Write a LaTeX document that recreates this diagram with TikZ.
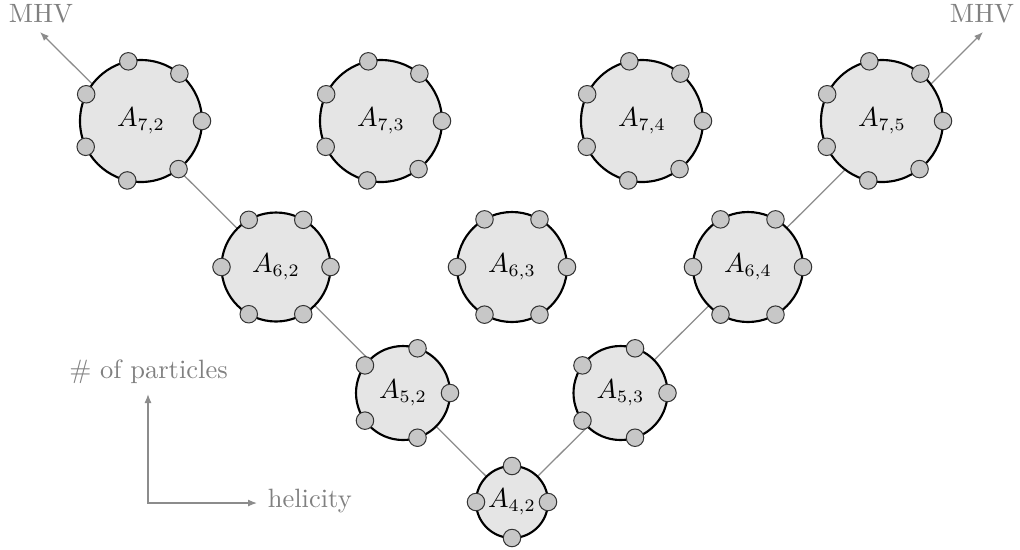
\documentclass[tikz,border=0pt]{standalone}
\usetikzlibrary{backgrounds,arrows.meta,calc}
\begin{document}
\begin{tikzpicture}[x=0.4pt,y=-0.4pt,
  font=\fontsize{10.6}{12.7}\selectfont,
  amp/.style={circle,draw=black,line width=0.85pt,fill=black!10,inner sep=0pt,outer sep=0pt,minimum size=#1*0.8pt},
  leg/.style={circle,draw=black!80,line width=0.4pt,fill=black!22,inner sep=0pt,minimum size=7pt},
  guide/.style={draw=black!45,line width=0.5pt},
  tip/.style={-{Latex[length=3.6pt,width=2.8pt]}},
  lbl/.style={text=black!50}]
\useasboundingbox (0,0) rectangle (1020,549);
% amplitudes
\node[amp=36]   (A42) at (512,502)   {$A_{4,2}$};
\node[amp=47]   (A52) at (403,393)   {$A_{5,2}$};
\node[amp=47]   (A53) at (620.5,393) {$A_{5,3}$};
\node[amp=54.5] (A62) at (276,267)   {$A_{6,2}$};
\node[amp=55]   (A63) at (512,267)   {$A_{6,3}$};
\node[amp=55]   (A64) at (748,267)   {$A_{6,4}$};
\node[amp=61]   (A72) at (141,121)   {$A_{7,2}$};
\node[amp=61]   (A73) at (381,121)   {$A_{7,3}$};
\node[amp=61]   (A74) at (642,121)   {$A_{7,4}$};
\node[amp=61]   (A75) at (882,121)   {$A_{7,5}$};
% external legs
\foreach \n/\nm in {4/A42,5/A52,5/A53,6/A62,6/A63,6/A64,7/A72,7/A73,7/A74,7/A75}{
  \foreach \i [evaluate=\i as \a using {360/\n*(\i-1)}] in {1,...,\n}{
    \node[leg] (\nm-\i) at (\nm.\a) {};
  }
}
% MHV lines
\coordinate (mhvL) at (40,32);
\coordinate (mhvR) at (983,32);
\node[lbl,anchor=base] (tL) at (41,22) {MHV};
\node[lbl,anchor=base] (tR) at (982,22) {MHV};
\begin{scope}[on background layer]
  \draw[guide,tip] (A42.center) -- (mhvL);
  \draw[guide,tip] (A42.center) -- (mhvR);
\end{scope}
% axes
\coordinate (O) at (148,503);
\coordinate (axY) at (148,394);
\coordinate (axX) at (257,503);
\node[lbl,anchor=base] (np) at (148.5,378) {\# of particles};
\node[lbl,anchor=base west] (hel) at (259,507) {helicity};
\draw[guide,{Latex[length=3.6pt,width=2.8pt]}-{Latex[length=3.6pt,width=2.8pt]}] (axY) -- (O) -- (axX);
\end{tikzpicture}
\end{document}
